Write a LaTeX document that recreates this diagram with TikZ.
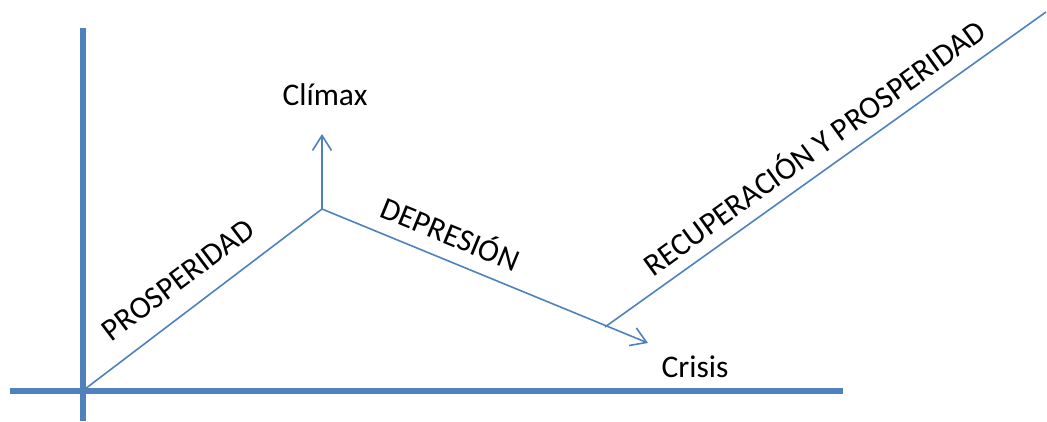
\documentclass[tikz,border=0pt]{standalone}
\usepackage{fontspec}
\setmainfont{Carlito}
\usepackage{tikz}
\usetikzlibrary{arrows.meta}
\definecolor{cycleblue}{HTML}{4F81BD}

\begin{document}
\begin{tikzpicture}[
x=1pt, y=-1pt,
axis/.style={draw=cycleblue, line width=6pt},
phase/.style={draw=cycleblue, line width=1.6pt},
phasearrow/.style={phase, -{Straight Barb[length=15pt,width=19pt]}},
phasetext/.style={font=\fontsize{31.5}{37}\selectfont, inner sep=0pt}
]
\useasboundingbox (0,0) rectangle (1047,421);

% axes
\coordinate (yTop) at (83,28);
\coordinate (yBot) at (83,421);
\coordinate (xLeft) at (10,391);
\coordinate (xRight) at (843,391);
\draw[axis] (yBot) -- (yTop);
\draw[axis] (xLeft) -- (xRight);

% cycle
\coordinate (start) at (85,389);
\coordinate (peak) at (322,209);
\coordinate (peakUp) at (322,134);
\coordinate (crisisTip) at (648,343);
\coordinate (low) at (605,327);
\coordinate (recTop) at (1046,12);
\draw[phase] (start) -- (peak);
\draw[phasearrow] (peak) -- (peakUp);
\draw[phasearrow] (peak) -- (crisisTip);
\draw[phase] (low) -- (recTop);

\node[phasetext] (climax) at (325,95) {Clímax};
\node[phasetext] (crisis) at (695,367) {Crisis};
\node[phasetext, rotate=37] (prosp) at (178,280) {PROSPERIDAD};
\node[phasetext, rotate=-22.3] (depr) at (451,232) {DEPRESIÓN};
\node[phasetext, rotate=35.8] (recup) at (813,146) {RECUPERACIÓN Y PROSPERIDAD};
\end{tikzpicture}
\end{document}
